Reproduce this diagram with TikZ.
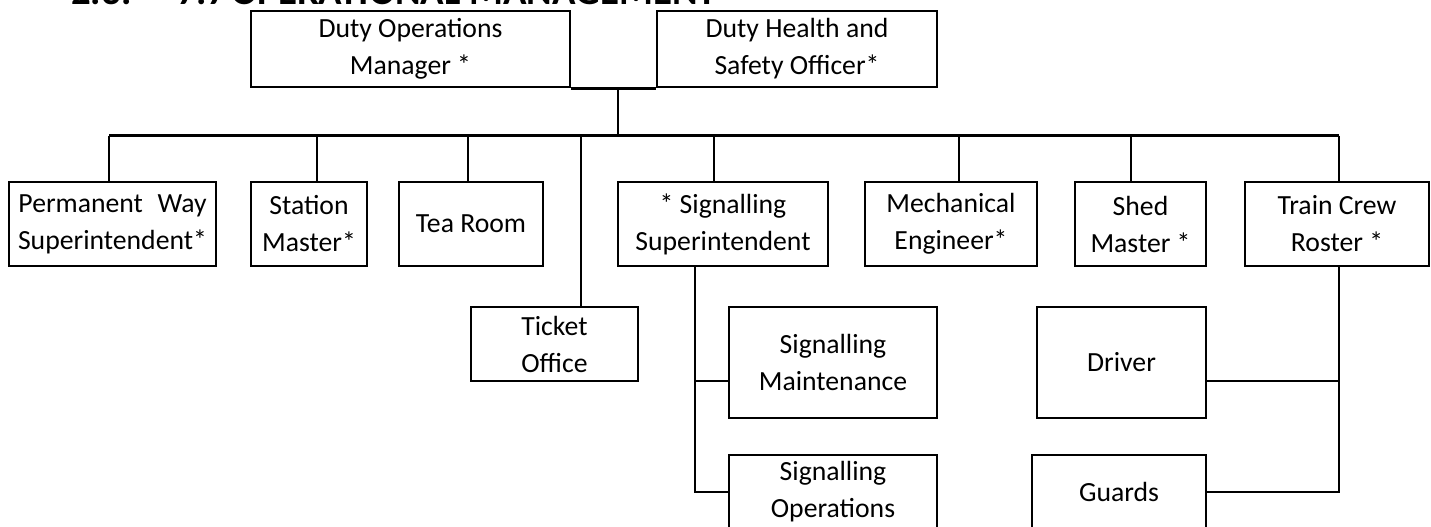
\documentclass[tikz,border=0pt]{standalone}
\usepackage{fontspec}
\setmainfont{Carlito}
\usepackage{xcolor}

\begin{document}
\begin{tikzpicture}[x=0.5pt, y=-0.5pt, line width=1.3pt,
    box/.style={draw=black, line width=1.3pt, align=center, inner sep=0pt,
                font=\fontsize{13.85}{18.5}\selectfont},
    rowbox/.style={box, minimum height=42pt},
    link/.style={draw=black, line width=1.3pt}]
    % --- page frame (the heading is cut at the top edge) ---
    \path[use as bounding box, clip] (0,0) rectangle (1431,526);
    \node[anchor=base west, inner sep=0pt, font=\bfseries\fontsize{19.4}{23}\selectfont] (heading) at (70,4.5)
        {\makebox[53pt][l]{2.3.}\makebox[27pt][l]{7.7}OPERATIONAL MANAGEMENT};

    % --- top level ---
    \node[box, minimum width=159.5pt, minimum height=38pt] (dom) at (410.5,49) {Duty Operations\\Manager *};
    \node[box, minimum width=140pt, minimum height=38pt] (dhs) at (797,49) {Duty Health and\\Safety Officer*};

    % --- second row ---
    \node[rowbox, minimum width=103.5pt] (pws) at (112.5,224) {Permanent\hspace{0.3em} Way\\Superintendent*};
    \node[rowbox, minimum width=58pt] (stm) at (309,224) {Station\\Master*};
    \node[rowbox, minimum width=72pt] (tea) at (471,224) {Tea Room};
    \node[rowbox, minimum width=105pt] (sig) at (723,224) {* Signalling\\Superintendent};
    \node[rowbox, minimum width=86pt] (mec) at (951,224) {Mechanical\\Engineer*};
    \node[rowbox, minimum width=65.5pt] (shd) at (1140.5,224) {Shed\\Master *};
    \node[rowbox, minimum width=92pt] (tcr) at (1337,224) {Train Crew\\Roster *};

    % --- lower rows ---
    \node[box, minimum width=83.5pt, minimum height=37pt] (tkt) at (554.5,344) {Ticket\\Office};
    \node[box, minimum width=104pt, minimum height=55.5pt] (smt) at (833,362.5) {Signalling\\Maintenance};
    \node[box, minimum width=104pt, minimum height=37pt] (sop) at (833,492) {Signalling\\Operations};
    \node[box, minimum width=84.5pt, minimum height=55.5pt] (drv) at (1121.5,362.5) {Driver};
    \node[box, minimum width=87pt, minimum height=37pt] (grd) at (1119,492) {Guards};

    % --- connectors ---
    \coordinate (bus) at (618,135.7);
    \draw[link] (dom.south east) -- (dhs.south west);
    \draw[link] (bus |- dom.south) -- (bus);
    \draw[link] (109,0 |- bus) -- (1339,0 |- bus);
    \foreach \n/\x in {pws/109, stm/317, tea/468, sig/714, mec/959, shd/1131, tcr/1339}
        \draw[link] (\x,0 |- bus) -- (\x,0 |- \n.north);
    \draw[link] (581,0 |- bus) -- (581,0 |- tkt.north);

    % Signalling branch
    \draw[link] (695,0 |- sig.south) |- (smt.west |- 0,381);
    \draw[link] (695,0 |- sig.south) |- (sop.west);
    % Train crew branch
    \draw[link] (1339,0 |- tcr.south) |- (drv.east |- 0,381);
    \draw[link] (1339,0 |- tcr.south) |- (grd.east);
\end{tikzpicture}
\end{document}
